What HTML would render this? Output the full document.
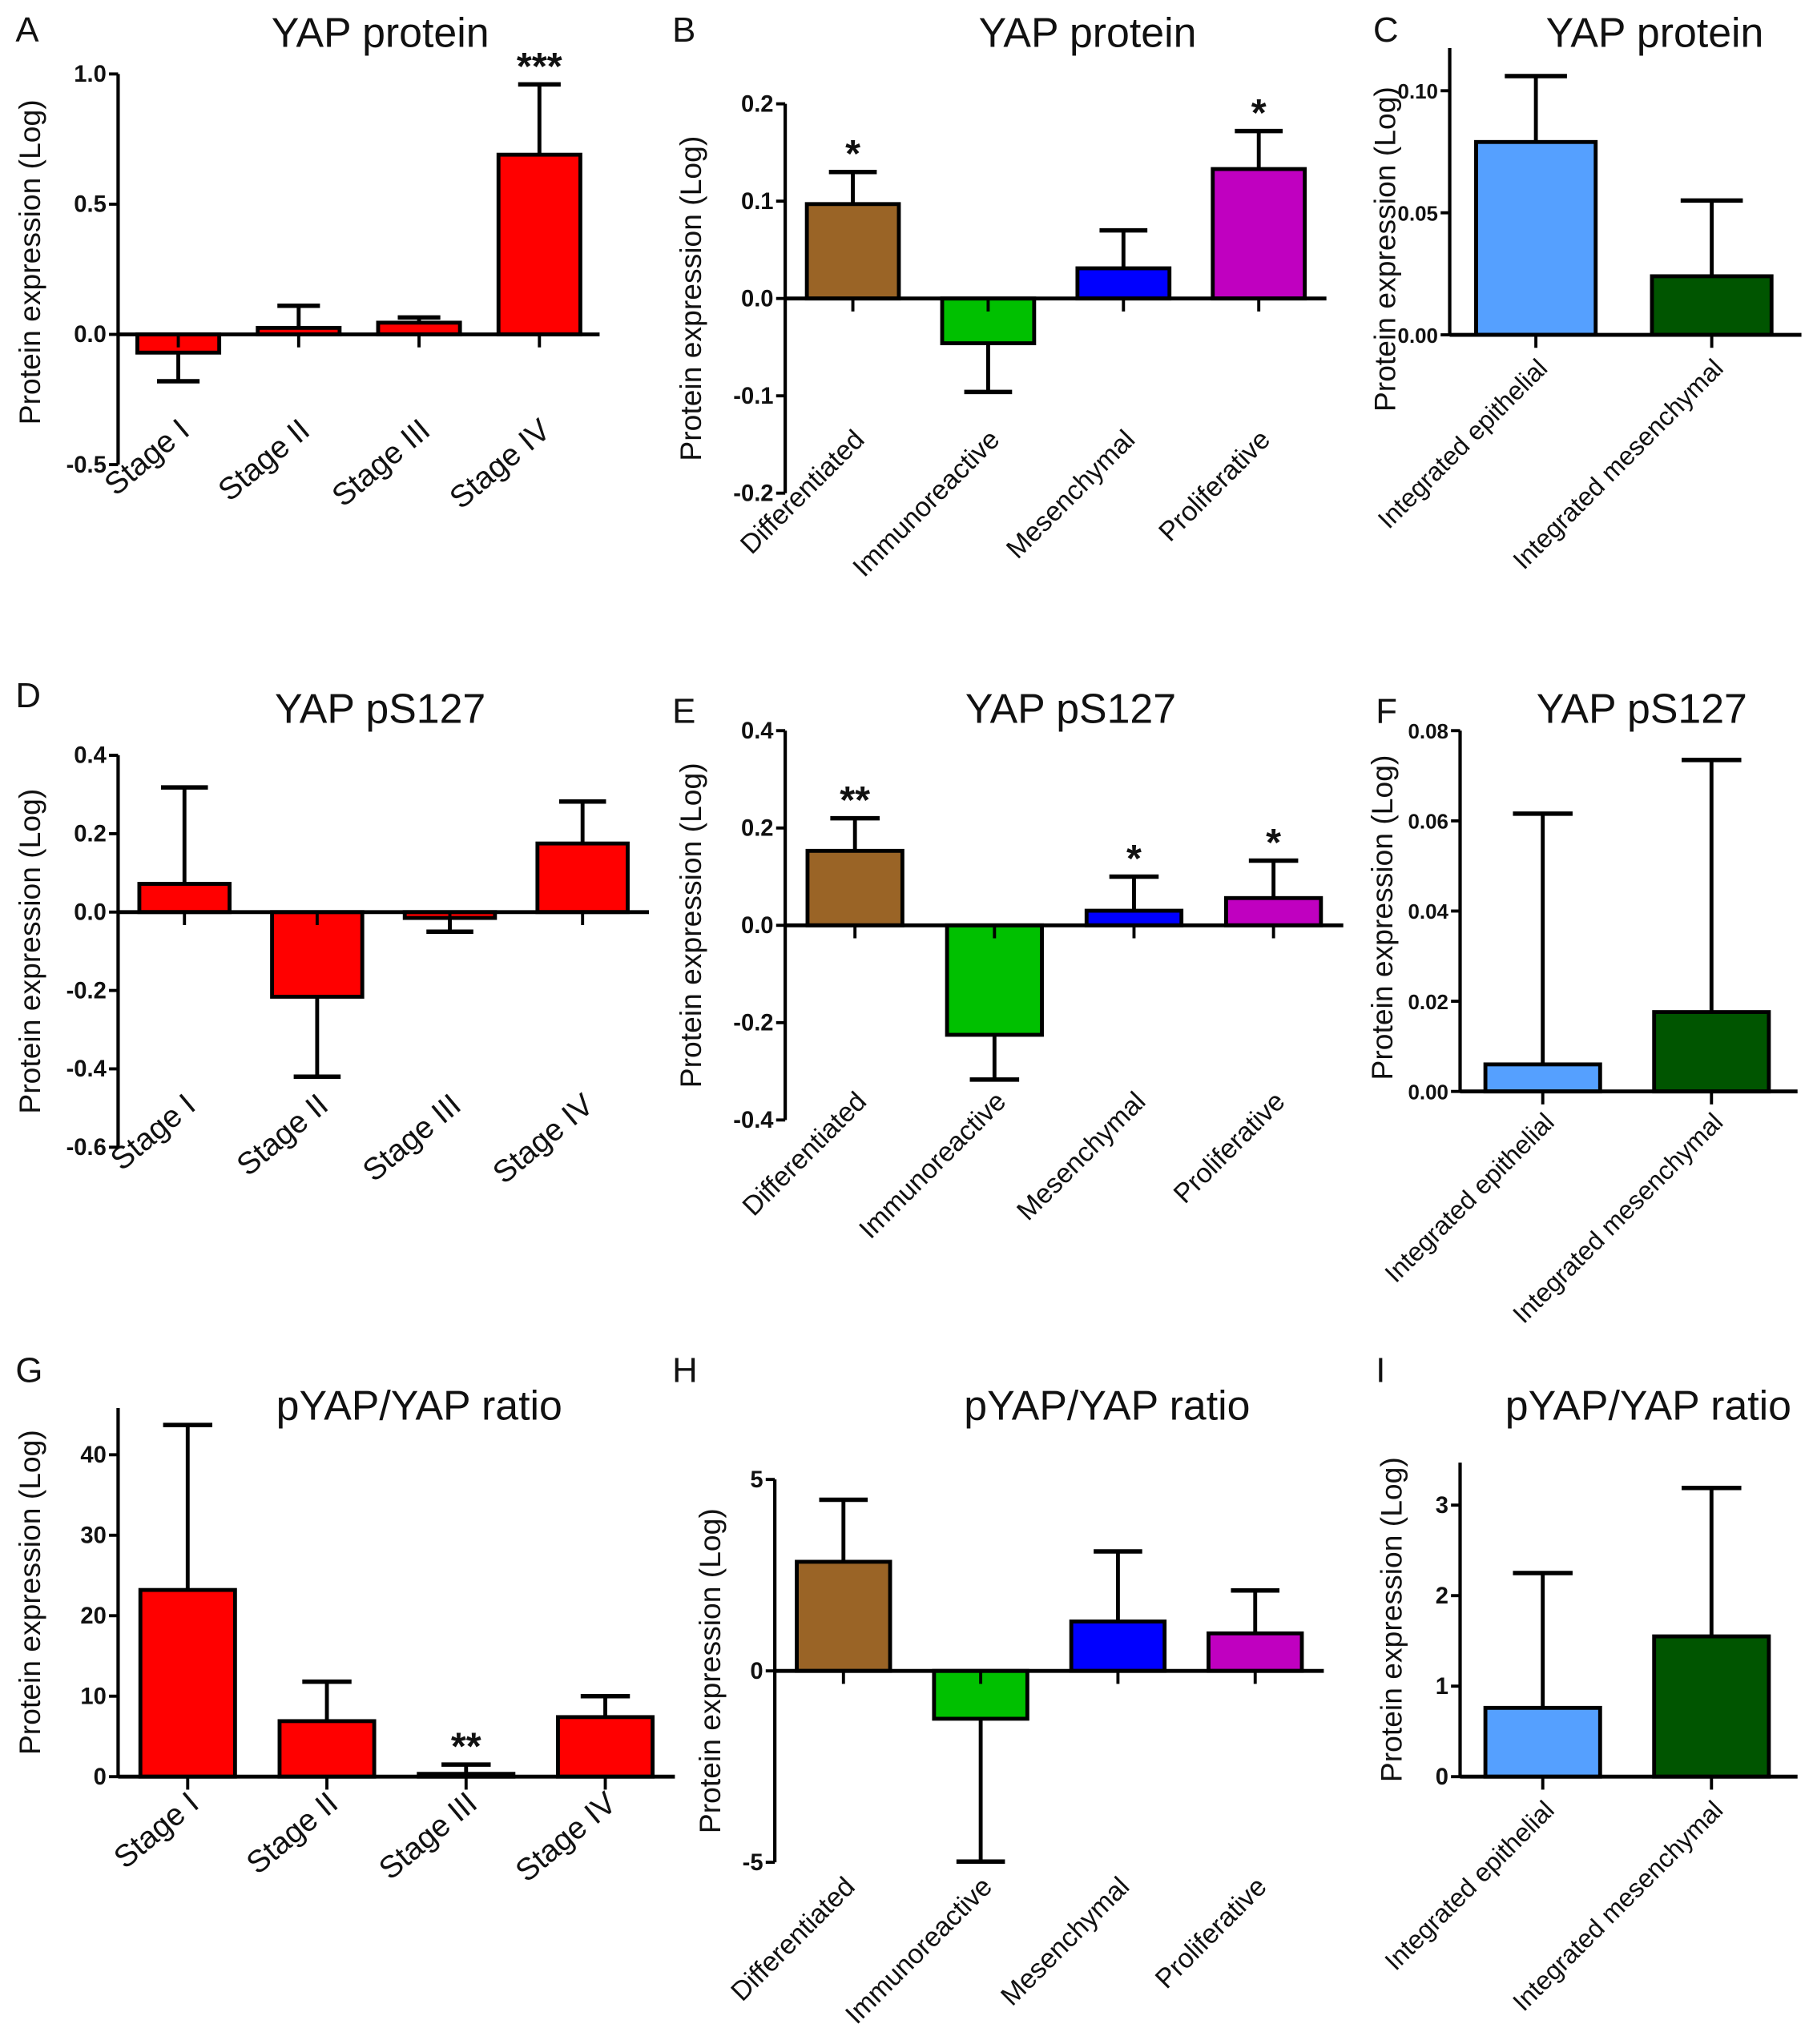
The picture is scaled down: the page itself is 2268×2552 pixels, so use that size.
<!DOCTYPE html>
<html><head><meta charset="utf-8"><style>
html,body{margin:0;padding:0;background:#fff;}
svg{display:block;}
text{font-family:"Liberation Sans",Arial,sans-serif;fill:#111;}
</style></head><body>
<svg id="fig" xmlns="http://www.w3.org/2000/svg" width="2268" height="2552" viewBox="0 0 1400 1575" preserveAspectRatio="none"></svg>
<script>
const catsStage = ["Stage I","Stage II","Stage III","Stage IV"];
const catsSub = ["Differentiated","Immunoreactive","Mesenchymal","Proliferative"];
const catsInt = ["Integrated epithelial","Integrated mesenchymal"];
const colorsStage = ["#ff0000","#ff0000","#ff0000","#ff0000"];
const colorsSub = ["#9a6426","#00c000","#0000ff","#c000c0"];
const colorsInt = ["#55a0ff","#005500"];

const valsA = [-0.07, 0.025, 0.045, 0.69];
const errA = [-0.18, 0.11, 0.065, 0.96];
const starsA = ["", "", "", "***"];
const ticksA = [-0.5, 0, 0.5, 1.0];
const tickLabelsA = ["-0.5","0.0","0.5","1.0"];

const valsB = [0.097, -0.046, 0.031, 0.133];
const errB = [0.13, -0.096, 0.07, 0.172];
const starsB = ["*", "", "", "*"];
const ticksB = [-0.2, -0.1, 0, 0.1, 0.2];
const tickLabelsB = ["-0.2","-0.1","0.0","0.1","0.2"];

const valsC = [0.079, 0.024];
const errC = [0.106, 0.055];
const starsC = ["", ""];
const ticksC = [0, 0.05, 0.10];
const tickLabelsC = ["0.00","0.05","0.10"];

const valsD = [0.072, -0.216, -0.015, 0.175];
const errD = [0.318, -0.42, -0.05, 0.282];
const starsD = ["", "", "", ""];
const ticksD = [-0.6, -0.4, -0.2, 0, 0.2, 0.4];
const tickLabelsD = ["-0.6","-0.4","-0.2","0.0","0.2","0.4"];

const valsE = [0.153, -0.225, 0.03, 0.056];
const errE = [0.22, -0.317, 0.1, 0.133];
const starsE = ["**", "", "*", "*"];
const ticksE = [-0.4, -0.2, 0, 0.2, 0.4];
const tickLabelsE = ["-0.4","-0.2","0.0","0.2","0.4"];

const valsF = [0.006, 0.0176];
const errF = [0.0616, 0.0735];
const starsF = ["", ""];
const ticksF = [0, 0.02, 0.04, 0.06, 0.08];
const tickLabelsF = ["0.00","0.02","0.04","0.06","0.08"];

const valsG = [23.2, 6.9, 0.35, 7.4];
const errG = [43.7, 11.8, 1.5, 10];
const starsG = ["", "", "**", ""];
const ticksG = [0, 10, 20, 30, 40];
const tickLabelsG = ["0","10","20","30","40"];

const valsH = [2.85, -1.25, 1.29, 0.98];
const errH = [4.47, -4.98, 3.12, 2.1];
const starsH = ["", "", "", ""];
const ticksH = [-5, 0, 5];
const tickLabelsH = ["-5","0","5"];

const valsI = [0.76, 1.55];
const errI = [2.25, 3.19];
const starsI = ["", ""];
const ticksI = [0, 1, 2, 3];
const tickLabelsI = ["0","1","2","3"];

const NS = "http://www.w3.org/2000/svg";
const svg = document.getElementById("fig");
function mk(tag, attrs, parent) {
  const e = document.createElementNS(NS, tag);
  for (const k in attrs) e.setAttribute(k, attrs[k]);
  (parent || svg).appendChild(e);
  return e;
}

function panel(p) {
  const g = mk("g", {});
  
  
  const y = v => p.py1 + (v - p.d1) * (p.py0 - p.py1) / (p.d0 - p.d1);
  const L = p.x1 - p.x0;
  const n = p.cats.length;
  const fr = n === 4 ? [0.125, 0.375, 0.625, 0.875] : [0.245, 0.745];
  const bw = (n === 4 ? 0.17 : 0.34) * L;
  const y0 = y(0);
  const tfs = p.tfs || 18;

  const lt = mk("text", {x: p.lx, y: p.ly, "font-size": 27}, g);
  lt.textContent = p.letter;
  
  
  const tt = mk("text", {x: p.tx, y: p.ty, "font-size": 32, "text-anchor": "middle"}, g);
  tt.textContent = p.title;
  
  

  const ylc = p.ylc || (p.py0 + p.py1) / 2;
  const yl = mk("text", {x: p.ylx, y: ylc, "font-size": 23, "text-anchor": "middle", transform: "rotate(-90 " + p.ylx + " " + ylc + ")"}, g);
  yl.textContent = "Protein expression (Log)";
  
  

  p.vals.forEach((v, i) => {
    const cx = p.x0 + fr[i] * L;
    const yt = y(Math.max(v, 0)), yb = y(Math.min(v, 0));
    const ey = y(p.errs[i]);
    const el = mk("line", {x1: cx, x2: cx, y1: y(v), y2: ey, stroke: "#000", "stroke-width": 3}, g);
    
    
    const cap = mk("line", {x1: cx - bw * 0.26, x2: cx + bw * 0.26, y1: ey, y2: ey, stroke: "#000", "stroke-width": 3.4}, g);
    
    
    const r = mk("rect", {x: cx - bw / 2, y: yt, width: bw, height: Math.max(yb - yt, 1), fill: p.colors[i], stroke: "#000", "stroke-width": 3}, g);
    
    
    if (p.stars[i]) {
      const st = mk("text", {x: cx, y: ey - 4, "font-size": 30, "font-weight": "bold", "text-anchor": "middle"}, g);
      st.textContent = p.stars[i];
      
      
    }
    const tk = mk("line", {x1: cx, x2: cx, y1: y0, y2: y0 + 10, stroke: "#000", "stroke-width": 2.4}, g);
    
    
    const ax = cx + 10, ay = p.cly;
    const cl = mk("text", {x: ax, y: ay, "font-size": p.cfs, "text-anchor": "end", transform: "rotate(" + p.rot + " " + ax + " " + ay + ")"}, g);
    cl.textContent = p.cats[i];
    
    
  });

  const ya = mk("line", {x1: p.x0, x2: p.x0, y1: y(p.d1), y2: y(p.d0), stroke: "#000", "stroke-width": 2.6}, g);
  
  
  const xa = mk("line", {x1: p.x0, x2: p.x1, y1: y0, y2: y0, stroke: "#000", "stroke-width": 3}, g);
  
  
  p.ticks.forEach((t, i) => {
    const ty = y(t);
    const tl = mk("line", {x1: p.x0 - 7, x2: p.x0, y1: ty, y2: ty, stroke: "#000", "stroke-width": 2.4}, g);
    
    
    const tx = mk("text", {x: p.x0 - 9, y: ty + 6, "font-size": tfs, "font-weight": "bold", "text-anchor": "end"}, g);
    tx.textContent = p.tickLabels[i];
    
    
  });
}

panel({letter:"A", title:"YAP protein", lx:12, ly:32, tx:293, ty:36, ylx:31, ylc:202, x0:91, x1:462, d0:-0.5, d1:1.0, py0:358, py1:57, cats:catsStage, vals:valsA, errs:errA, stars:starsA, colors:colorsStage, ticks:ticksA, tickLabels:tickLabelsA, cly:334, rot:-40, cfs:24});
panel({letter:"B", title:"YAP protein", lx:518, ly:32, tx:838, ty:36, ylx:540, x0:605, x1:1022, d0:-0.2, d1:0.2, py0:380, py1:80, cats:catsSub, vals:valsB, errs:errB, stars:starsB, colors:colorsSub, ticks:ticksB, tickLabels:tickLabelsB, cly:340, rot:-45, cfs:21});
panel({letter:"C", title:"YAP protein", lx:1058, ly:32, tx:1275, ty:36, ylx:1075, ylc:192, x0:1117, x1:1388, d0:0, d1:0.1175, py0:258, py1:37, cats:catsInt, vals:valsC, errs:errC, stars:starsC, colors:colorsInt, ticks:ticksC, tickLabels:tickLabelsC, cly:285, rot:-45, cfs:20, tfs:16});

panel({letter:"D", title:"YAP pS127", lx:12, ly:545, tx:293, ty:557, ylx:31, x0:91, x1:500, d0:-0.6, d1:0.4, py0:884, py1:582, cats:catsStage, vals:valsD, errs:errD, stars:starsD, colors:colorsStage, ticks:ticksD, tickLabels:tickLabelsD, cly:854, rot:-40, cfs:24});
panel({letter:"E", title:"YAP pS127", lx:518, ly:557, tx:825, ty:557, ylx:540, x0:605, x1:1035, d0:-0.4, d1:0.4, py0:863, py1:563, cats:catsSub, vals:valsE, errs:errE, stars:starsE, colors:colorsSub, ticks:ticksE, tickLabels:tickLabelsE, cly:850, rot:-45, cfs:21});
panel({letter:"F", title:"YAP pS127", lx:1060, ly:557, tx:1265, ty:557, ylx:1073, ylc:707, x0:1125, x1:1385, d0:0, d1:0.08, py0:841, py1:563, cats:catsInt, vals:valsF, errs:errF, stars:starsF, colors:colorsInt, ticks:ticksF, tickLabels:tickLabelsF, cly:866, rot:-45, cfs:20, tfs:16});

panel({letter:"G", title:"pYAP/YAP ratio", lx:12, ly:1065, tx:323, ty:1094, ylx:31, x0:91, x1:520, d0:0, d1:45.8, py0:1369, py1:1085, cats:catsStage, vals:valsG, errs:errG, stars:starsG, colors:colorsStage, ticks:ticksG, tickLabels:tickLabelsG, cly:1392, rot:-40, cfs:24});
panel({letter:"H", title:"pYAP/YAP ratio", lx:518, ly:1065, tx:853, ty:1094, ylx:555, x0:597, x1:1020, d0:-5, d1:5, py0:1435, py1:1140, cats:catsSub, vals:valsH, errs:errH, stars:starsH, colors:colorsSub, ticks:ticksH, tickLabels:tickLabelsH, cly:1455, rot:-45, cfs:21});
panel({letter:"I", title:"pYAP/YAP ratio", lx:1060, ly:1065, tx:1270, ty:1094, ylx:1080, x0:1125, x1:1385, d0:0, d1:3.47, py0:1369, py1:1127, cats:catsInt, vals:valsI, errs:errI, stars:starsI, colors:colorsInt, ticks:ticksI, tickLabels:tickLabelsI, cly:1396, rot:-45, cfs:20});
</script>
</body></html>
